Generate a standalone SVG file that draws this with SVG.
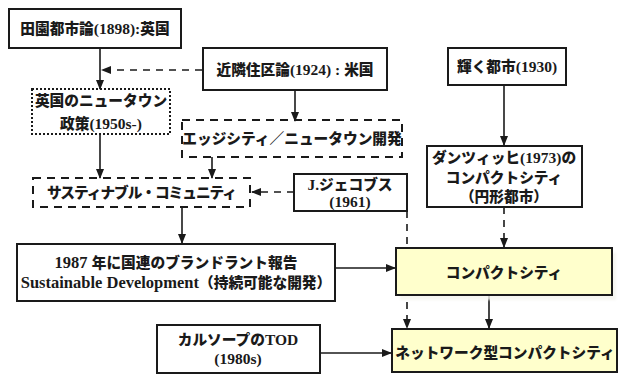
<svg xmlns="http://www.w3.org/2000/svg" width="619" height="376" viewBox="0 0 619 376">
<defs>
<style>
.box{fill:#fff;stroke:#1a1a1a;stroke-width:2}
.ybox{fill:#ffffcc;stroke:#1a1a1a;stroke-width:2}
.dash{fill:none;stroke:#1a1a1a;stroke-width:2;stroke-dasharray:8,6}
.dot{fill:none;stroke:#1a1a1a;stroke-width:2;stroke-dasharray:2,2}
.t{font-family:"Liberation Serif","Noto Sans CJK JP",serif;font-weight:bold;font-size:15.5px;fill:#1a1a1a;text-anchor:middle}
.j{font-family:"Noto Sans CJK JP",sans-serif;font-weight:900;font-size:14.7px}
.c{stroke:#1a1a1a;stroke-width:1.6;fill:none}
.cd{stroke:#1a1a1a;stroke-width:1.6;fill:none;stroke-dasharray:7,6}
</style>
<marker id="ah" markerWidth="10" markerHeight="8" refX="9" refY="4" orient="auto" markerUnits="userSpaceOnUse">
<path d="M0,0 L10,4 L0,8 Z" fill="#1a1a1a"/>
</marker>
<filter id="sh" x="-10%" y="-10%" width="130%" height="150%"><feOffset dx="4" dy="5"/><feGaussianBlur stdDeviation="1"/><feColorMatrix values="0 0 0 0 0.9 0 0 0 0 0.9 0 0 0 0 0.85 0 0 0 0.8 0"/></filter>
</defs>
<g id="connectors">
<line class="c" x1="100" y1="48" x2="100" y2="89" marker-end="url(#ah)"/>
<line class="cd" x1="202" y1="70" x2="102" y2="70" marker-end="url(#ah)"/>
<line class="c" x1="295" y1="90" x2="295" y2="121" marker-end="url(#ah)"/>
<line class="c" x1="100" y1="134" x2="100" y2="178" marker-end="url(#ah)"/>
<line class="c" x1="212" y1="157" x2="212" y2="178" marker-end="url(#ah)"/>
<line class="cd" x1="294" y1="192" x2="252" y2="192" marker-end="url(#ah)"/>
<line class="c" x1="182" y1="207" x2="182" y2="243" marker-end="url(#ah)"/>
<line class="c" x1="335" y1="268" x2="395" y2="268" marker-end="url(#ah)"/>
<line class="c" x1="504" y1="85" x2="504" y2="145" marker-end="url(#ah)"/>
<line class="cd" x1="504" y1="207" x2="504" y2="247" marker-end="url(#ah)"/>
<line class="cd" x1="407" y1="211" x2="407" y2="328" marker-end="url(#ah)"/>
<line class="c" x1="489" y1="295" x2="489" y2="328" marker-end="url(#ah)"/>
<line class="c" x1="320" y1="353" x2="391" y2="353" marker-end="url(#ah)"/>
</g>
<g id="n-denen">
<rect class="box" x="9" y="9" width="172" height="39"/>
<text class="t" x="95" y="34"><tspan class="j">田園都市論</tspan>(1898):<tspan class="j">英国</tspan></text>
</g>
<g id="n-kinrin">
<rect class="box" x="203" y="48" width="184" height="42"/>
<text class="t" x="295" y="75"><tspan class="j">近隣住区論</tspan>(1924) : <tspan class="j">米国</tspan></text>
</g>
<g id="n-eikoku">
<rect class="dot" x="32" y="89" width="138" height="45"/>
<text class="t" x="101" y="106"><tspan class="j">英国のニュータウン</tspan></text>
<text class="t" x="101" y="129"><tspan class="j">政策</tspan>(1950s-)</text>
</g>
<g id="n-edge">
<rect class="dash" x="182" y="120" width="220" height="37"/>
<text class="t" x="292" y="144"><tspan class="j">エッジシティ／ニュータウン開発</tspan></text>
</g>
<g id="n-sustain">
<rect class="dash" x="33" y="178" width="217" height="29"/>
<text class="t j" x="142" y="198" textLength="190" lengthAdjust="spacing">サスティナブル・コミュニティ</text>
</g>
<g id="n-jacobs">
<rect class="box" x="294" y="174" width="113" height="37"/>
<text class="t" x="350" y="190">J.<tspan class="j">ジェコブス</tspan></text>
<text class="t" x="350" y="207">(1961)</text>
</g>
<g id="n-kagayaku">
<rect class="box" x="448" y="48" width="118" height="37"/>
<text class="t" x="507" y="72"><tspan class="j">輝く都市</tspan>(1930)</text>
</g>
<g id="n-danzig">
<rect class="box" x="427" y="146" width="155" height="61"/>
<text class="t" x="504" y="163"><tspan class="j">ダンツィッヒ</tspan>(1973)<tspan class="j">の</tspan></text>
<text class="t" x="504" y="183"><tspan class="j">コンパクトシティ</tspan></text>
<text class="t" x="504" y="202"><tspan class="j">（円形都市）</tspan></text>
</g>
<g id="n-brundtland">
<rect class="box" x="17" y="244" width="318" height="57"/>
<text class="t" x="176" y="268" style="font-size:16.5px">1987 <tspan class="j">年に国連のブランドラント報告</tspan></text>
<text class="t" x="176" y="288" style="font-size:16.5px">Sustainable Development<tspan class="j">（持続可能な開発）</tspan></text>
</g>
<g id="n-compact">
<rect x="396" y="248" width="216" height="47" fill="#f4f4e4" filter="url(#sh)"/>
<rect class="ybox" x="396" y="248" width="216" height="47"/>
<text class="t" x="504" y="278"><tspan class="j">コンパクトシティ</tspan></text>
</g>
<g id="n-calthorpe">
<rect class="box" x="157" y="325" width="163" height="48"/>
<text class="t" x="238" y="345"><tspan class="j">カルソープの</tspan>TOD</text>
<text class="t" x="238" y="364">(1980s)</text>
</g>
<g id="n-network">
<rect class="ybox" x="392" y="329" width="225" height="43"/>
<text class="t" x="505" y="358"><tspan class="j">ネットワーク型コンパクトシティ</tspan></text>
</g>
</svg>
